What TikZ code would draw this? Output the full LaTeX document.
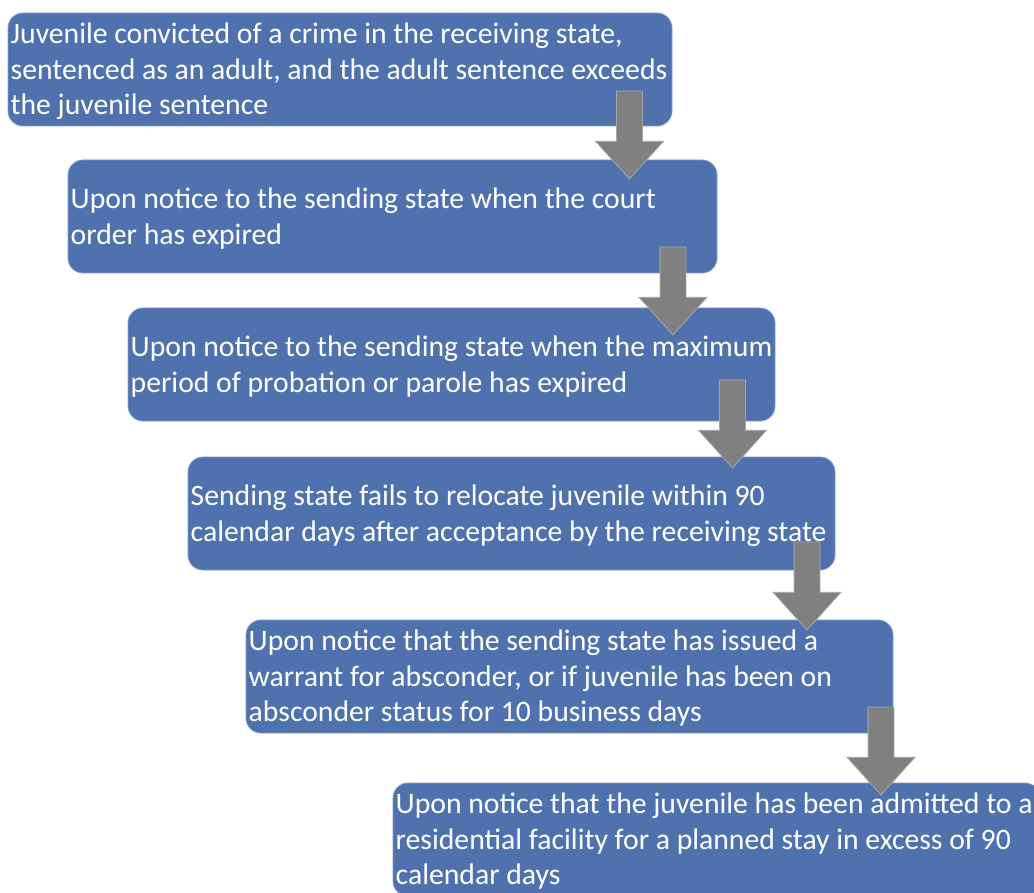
\documentclass[tikz,border=0pt]{standalone}
\usepackage{fontspec}
\setmainfont{Carlito}
\usetikzlibrary{shapes.arrows}
\definecolor{boxblue}{HTML}{4F72AF}
\definecolor{boxedge}{HTML}{7F9BCB}
\definecolor{arrowgray}{HTML}{808080}
\definecolor{arrowedge}{HTML}{A6A6A6}
\tikzset{
  stepbox/.style={rectangle, rounded corners=15pt, fill=boxblue, draw=boxedge,
    line width=0.8pt, inner sep=0pt, minimum height=113pt, minimum width=647pt,
    anchor=north west, outer sep=0pt},
  steptext/.style={text=white, align=left, inner xsep=2.5pt, inner ysep=0pt,
    anchor=west, yshift=-2pt, font=\fontsize{29.7}{35.5}\selectfont},
  downarrow/.style={single arrow, rotate=-90, anchor=tail, fill=arrowgray,
    draw=arrowedge, line width=0.8pt, minimum height=88pt, inner xsep=0pt,
    inner ysep=12.5pt, single arrow head extend=21pt, single arrow tip angle=84,
    outer sep=0pt}
}
\begin{document}
\begin{tikzpicture}[x=1pt,y=-1pt]
\useasboundingbox (0,0) rectangle (1034,893);
\clip (0,0) rectangle (1034,893);
\fill[white] (0,0) rectangle (1034,893);
\node[stepbox, minimum width=664pt] (b1) at (8,13) {};
\node[stepbox, minimum width=649pt] (b2) at (68,160) {};
\node[stepbox] (b3) at (128,308) {};
\node[stepbox] (b4) at (188,457) {};
\node[stepbox] (b5) at (246,620) {};
\node[stepbox] (b6) at (393,783) {};
\node[steptext] (t1) at (b1.west)
  {Juvenile convicted of a crime in the receiving state,\\sentenced as an adult, and the adult sentence exceeds\\the juvenile sentence};
\node[steptext] (t2) at (b2.west)
  {Upon notice to the sending state when the court\\order has expired};
\node[steptext] (t3) at (b3.west)
  {Upon notice to the sending state when the maximum\\period of probation or parole has expired};
\node[steptext] (t4) at (b4.west)
  {Sending state fails to relocate juvenile within 90\\calendar days after acceptance by the receiving state};
\node[steptext] (t5) at (b5.west)
  {Upon notice that the sending state has issued a\\warrant for absconder, or if juvenile has been on\\absconder status for 10 business days};
\node[steptext] (t6) at (b6.west)
  {Upon notice that the juvenile has been admitted to a\\residential facility for a planned stay in excess of 90\\calendar days};
\node[downarrow] (a1) at (629.5,91) {};
\node[downarrow] (a2) at (673,247) {};
\node[downarrow] (a3) at (732.5,380) {};
\node[downarrow] (a4) at (807,542) {};
\node[downarrow] (a5) at (881,707) {};
\end{tikzpicture}
\end{document}
